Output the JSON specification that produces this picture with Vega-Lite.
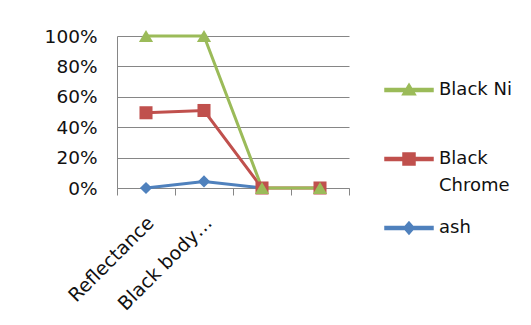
{
  "$schema": "https://vega.github.io/schema/vega-lite/v6.json",
  "autosize": {"type": "none"},
  "width": 232,
  "height": 152,
  "padding": {"left": 117, "top": 36, "right": 182, "bottom": 137},
  "background": "white",
  "config": {
    "view": {"stroke": null},
    "font": "DejaVu Sans"
  },
  "data": {
    "values": [
      {"cat": "Reflectance", "series": "ash", "value": 0},
      {"cat": "Black body…", "series": "ash", "value": 0.043},
      {"cat": "C3", "series": "ash", "value": 0},
      {"cat": "Reflectance", "series": "Black Chrome", "value": 0.495},
      {"cat": "Black body…", "series": "Black Chrome", "value": 0.51},
      {"cat": "C3", "series": "Black Chrome", "value": 0},
      {"cat": "C4", "series": "Black Chrome", "value": 0},
      {"cat": "Reflectance", "series": "Black Ni", "value": 1},
      {"cat": "Black body…", "series": "Black Ni", "value": 1},
      {"cat": "C3", "series": "Black Ni", "value": 0},
      {"cat": "C4", "series": "Black Ni", "value": 0}
    ]
  },
  "encoding": {
    "x": {
      "field": "cat",
      "type": "nominal",
      "scale": {"type": "band", "domain": ["Reflectance", "Black body…", "C3", "C4"], "paddingInner": 0, "paddingOuter": 0},
      "axis": {
        "title": null,
        "labelAngle": -45,
        "labelFontSize": 19,
        "labelColor": "#111111",
        "labelPadding": 18,
        "labelOffset": -2,
        "labelExpr": "datum.label == 'C3' || datum.label == 'C4' ? '' : datum.label",
        "tickBand": "extent",
        "tickSize": 7,
        "tickColor": "#868686",
        "domainColor": "#868686",
        "grid": false,
        "labelLimit": 300
      }
    },
    "y": {
      "field": "value",
      "type": "quantitative",
      "scale": {"domain": [0, 1], "nice": false},
      "axis": {
        "title": null,
        "values": [0, 0.2, 0.4, 0.6, 0.8, 1],
        "format": ".0%",
        "labelFontSize": 18.5,
        "labelColor": "#111111",
        "labelPadding": 20,
        "ticks": false,
        "grid": true,
        "gridColor": "#868686",
        "domainColor": "#868686"
      }
    },
    "color": {
      "field": "series",
      "type": "nominal",
      "scale": {"domain": ["Black Ni", "Black Chrome", "ash"], "range": ["#9BBB59", "#C0504D", "#4F81BD"]},
      "legend": {
        "title": null,
        "orient": "none",
        "legendX": 267,
        "legendY": 29,
        "padding": 0,
        "symbolSize": 2304,
        "rowPadding": 0,
        "labelOffset": 5,
        "labelFontSize": 18,
        "labelColor": "#111111",
        "labelLimit": 200,
        "labelExpr": "datum.label == 'Black Chrome' ? ['Black', 'Chrome'] : datum.label",
        "encode": {
          "symbols": {
            "update": {
              "shape": {"signal": "datum.value == 'Black Ni' ? 'M0,-1L0,-1M0,1.6L0,1.6M-1,-0.0625H1V0.0625H-1Z M0,-0.25L0.27,0.2L-0.27,0.2Z' : datum.value == 'Black Chrome' ? 'M0,-1L0,-1M0,1.6L0,1.6M-1,-0.0625H1V0.0625H-1Z M-0.25,-0.25H0.25V0.25H-0.25Z' : 'M0,-1L0,-1M0,1.6L0,1.6M-1,-0.0625H1V0.0625H-1Z M0,-0.25L0.22,0L0,0.25L-0.22,0Z'"},
              "fill": {"signal": "datum.value == 'Black Ni' ? '#9BBB59' : datum.value == 'Black Chrome' ? '#C0504D' : '#4F81BD'"},
              "stroke": {"value": "transparent"},
              "opacity": {"value": 1}
            }
          },
          "labels": {
            "update": {
              "lineHeight": {"value": 27}
            }
          }
        }
      }
    }
  },
  "layer": [
    {
      "mark": {"type": "line", "strokeWidth": 3}
    },
    {
      "transform": [{"filter": "datum.series == 'ash'"}],
      "mark": {"type": "point", "filled": true, "opacity": 1, "size": 150, "shape": "diamond"}
    },
    {
      "transform": [{"filter": "datum.series == 'Black Chrome'"}],
      "mark": {"type": "point", "filled": true, "opacity": 1, "size": 170, "shape": "square"}
    },
    {
      "transform": [{"filter": "datum.series == 'Black Ni'"}],
      "mark": {"type": "point", "filled": true, "opacity": 1, "size": 200, "shape": "triangle-up"}
    }
  ]
}
